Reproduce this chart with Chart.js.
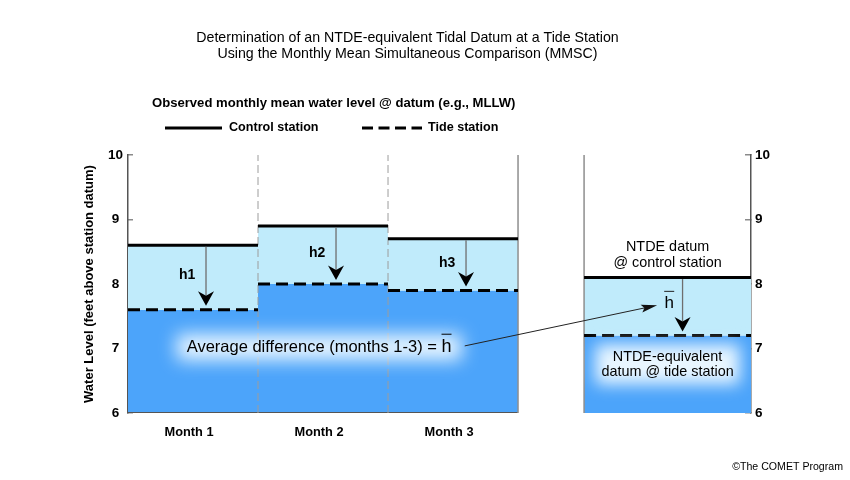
<!DOCTYPE html>
<html><head><meta charset="utf-8">
<script src="https://cdn.jsdelivr.net/npm/chart.js@4.4.1/dist/chart.umd.min.js"></script>
<style>html,body{margin:0;padding:0;background:#fff;} #wrap{width:850px;height:480px;}</style>
</head><body><div id="wrap"><canvas id="c" width="850" height="480" style="width:850px;height:480px"></canvas></div>
<script>
const months = ['Month 1', 'Month 2', 'Month 3'];
const controlStation = [8.6, 8.9, 8.7];
const tideStation = [7.6, 8.0, 7.9];
const ntdeControl = [8.1];
const ntdeTide = [7.2];
const yTicks = [6, 7, 8, 9, 10];
const titleLines = ['Determination of an NTDE-equivalent Tidal Datum at a Tide Station', 'Using the Monthly Mean Simultaneous Comparison (MMSC)'];
const legendHeading = 'Observed monthly mean water level @ datum (e.g., MLLW)';
const seriesNames = ['Control station', 'Tide station'];
const diffLabels = ['h1', 'h2', 'h3'];
const avgLabel = 'Average difference (months 1-3) = ';
const ntdeControlLabel = ['NTDE datum', '@ control station'];
const ntdeTideLabel = ['NTDE-equivalent', 'datum @ tide station'];
const yTitle = 'Water Level (feet above station datum)';
const credit = '\u00A9The COMET Program';

// layout, in x-axis units (one month = 1)
const GAP = 0.508, PANEL = 1.284;
const ntdeStart = months.length + GAP, ntdeEnd = ntdeStart + PANEL;
const DARK = '#4ca4fa', LIGHT = '#c0ebfb';
const FONT = "'Liberation Sans', Arial, sans-serif";
const yMin = yTicks[0], yMax = yTicks[yTicks.length - 1];

const datasets = [];
function segment(x0, x1, c, t) {
  const ti = datasets.length;
  datasets.push({label: seriesNames[1], data: [{x: x0, y: t}, {x: x1, y: t}], borderColor: '#000', borderWidth: 3,
    borderDash: [12, 6], fill: 'start', backgroundColor: DARK, pointRadius: 0, order: 1});
  datasets.push({label: seriesNames[0], data: [{x: x0, y: c}, {x: x1, y: c}], borderColor: '#000', borderWidth: 3,
    fill: ti, backgroundColor: LIGHT, pointRadius: 0, order: 0});
}
months.forEach((m, i) => segment(i, i + 1, controlStation[i], tideStation[i]));
segment(ntdeStart, ntdeEnd, ntdeControl[0], ntdeTide[0]);
for (let i = 1; i < months.length; i++) {
  datasets.push({label: 'sep', data: [{x: i, y: yMin}, {x: i, y: yMax}], borderColor: '#9c9c9c', borderWidth: 1,
    borderDash: [8, 4], pointRadius: 0, fill: false, order: 2});
}
[months.length, ntdeStart].forEach(xv => datasets.push({label: 'edge', data: [{x: xv, y: yMin}, {x: xv, y: yMax}],
  borderColor: '#8e8e8e', borderWidth: 1.5, pointRadius: 0, fill: false, order: 2}));
datasets.push({label: 'base', data: [{x: 0, y: yMin}, {x: months.length, y: yMin}], borderColor: '#555', borderWidth: 2,
  pointRadius: 0, fill: false, order: 2});

const annotations = {
  id: 'annotations',
  afterDatasetsDraw(chart) {
    const {ctx, scales: {x, y}} = chart;
    ctx.save();
    ctx.setLineDash([]);
    const arrow = (xv, c, t) => {
      const px = x.getPixelForValue(xv);
      const y0 = y.getPixelForValue(c) + 1.5;
      const tip = y.getPixelForValue(t) - 4;
      ctx.strokeStyle = '#6e6e6e'; ctx.lineWidth = 1.3;
      ctx.beginPath(); ctx.moveTo(px, y0); ctx.lineTo(px, tip - 10); ctx.stroke();
      ctx.fillStyle = '#000';
      ctx.beginPath(); ctx.moveTo(px, tip); ctx.lineTo(px - 8, tip - 14.5); ctx.lineTo(px, tip - 10);
      ctx.lineTo(px + 8, tip - 14.5); ctx.closePath(); ctx.fill();
    };
    const glow = (cx, cy, w, h, blur) => {
      ctx.save(); ctx.filter = 'blur(' + blur + 'px)'; ctx.fillStyle = 'rgba(238,249,255,0.97)';
      ctx.fillRect(cx - w / 2, cy - h / 2, w, h); ctx.restore();
    };
    months.forEach((m, i) => {
      arrow(i + 0.6, controlStation[i], tideStation[i]);
      ctx.fillStyle = '#000'; ctx.font = 'bold 14px ' + FONT; ctx.textAlign = 'center'; ctx.textBaseline = 'middle';
      ctx.fillText(diffLabels[i], x.getPixelForValue(i + 0.455), y.getPixelForValue((controlStation[i] + tideStation[i]) / 2 + 0.03));
    });
    arrow(ntdeStart + 0.59 * PANEL, ntdeControl[0], ntdeTide[0]);

    // average difference label
    ctx.font = '16.5px ' + FONT;
    const tw = ctx.measureText(avgLabel).width;
    ctx.font = '18px ' + FONT;
    const hw = ctx.measureText('h').width;
    const cx = x.getPixelForValue(1.47), cy = y.getPixelForValue(7.02);
    const total = tw + hw;
    glow(cx, cy, total + 20, 26, 9);
    ctx.fillStyle = '#000'; ctx.textAlign = 'left'; ctx.textBaseline = 'middle';
    const sx = cx - total / 2;
    ctx.font = '16.5px ' + FONT;
    ctx.fillText(avgLabel, sx, cy);
    ctx.font = '18px ' + FONT;
    ctx.fillText('h', sx + tw, cy);
    ctx.strokeStyle = '#000'; ctx.lineWidth = 1;
    ctx.beginPath(); ctx.moveTo(sx + tw, cy - 13); ctx.lineTo(sx + tw + 10, cy - 13); ctx.stroke();

    // pointer from label to h-bar
    const ax0 = x.getPixelForValue(2.59), ay0 = y.getPixelForValue(7.04);
    const ax1 = x.getPixelForValue(4.07), ay1 = y.getPixelForValue(7.67);
    const ang = Math.atan2(ay1 - ay0, ax1 - ax0);
    ctx.strokeStyle = '#222'; ctx.lineWidth = 1;
    ctx.beginPath(); ctx.moveTo(ax0, ay0); ctx.lineTo(ax1 - 12 * Math.cos(ang), ay1 - 12 * Math.sin(ang)); ctx.stroke();
    ctx.save(); ctx.translate(ax1, ay1); ctx.rotate(ang);
    ctx.fillStyle = '#111';
    ctx.beginPath(); ctx.moveTo(0, 0); ctx.lineTo(-16, -4); ctx.lineTo(-13, 0); ctx.lineTo(-16, 4); ctx.closePath(); ctx.fill();
    ctx.restore();

    // NTDE panel labels
    const pcx = x.getPixelForValue(ntdeStart + PANEL / 2);
    ctx.fillStyle = '#000'; ctx.textAlign = 'center'; ctx.textBaseline = 'middle';
    ctx.font = '14.4px ' + FONT;
    ctx.fillText(ntdeControlLabel[0], pcx, y.getPixelForValue(8.58));
    ctx.fillText(ntdeControlLabel[1], pcx, y.getPixelForValue(8.32));
    // h bar in panel
    const hx = x.getPixelForValue(ntdeStart + 0.51 * PANEL), hy = y.getPixelForValue(7.70);
    ctx.font = '17px ' + FONT;
    ctx.fillText('h', hx, hy);
    ctx.beginPath(); ctx.moveTo(hx - 5, hy - 12); ctx.lineTo(hx + 5, hy - 12); ctx.stroke();
    // NTDE tide label with glow
    const g1 = y.getPixelForValue(6.87), g2 = y.getPixelForValue(6.64);
    ctx.font = '14.4px ' + FONT;
    const w2 = Math.max(ctx.measureText(ntdeTideLabel[0]).width, ctx.measureText(ntdeTideLabel[1]).width);
    glow(pcx, (g1 + g2) / 2, w2 + 12, 40, 8);
    ctx.fillStyle = '#000';
    ctx.fillText(ntdeTideLabel[0], pcx, g1);
    ctx.fillText(ntdeTideLabel[1], pcx, g2);
    ctx.restore();
  },
  afterDraw(chart) {
    const ctx = chart.ctx;
    ctx.save();
    ctx.fillStyle = '#000'; ctx.textBaseline = 'middle'; ctx.textAlign = 'left';
    ctx.font = 'bold 13.1px ' + FONT;
    ctx.fillText(legendHeading, 152, 103);
    ctx.strokeStyle = '#000'; ctx.lineWidth = 3;
    ctx.beginPath(); ctx.moveTo(165, 128); ctx.lineTo(222, 128); ctx.stroke();
    ctx.font = 'bold 12.6px ' + FONT;
    ctx.fillText(seriesNames[0], 229, 128);
    ctx.setLineDash([11, 5.5]);
    ctx.beginPath(); ctx.moveTo(362, 128); ctx.lineTo(422, 128); ctx.stroke();
    ctx.setLineDash([]);
    ctx.fillText(seriesNames[1], 428, 128);
    ctx.font = '10.6px ' + FONT; ctx.textAlign = 'right';
    ctx.fillText(credit, 843, 467);
    ctx.restore();
  }
};

const axisY = (pos) => ({
  type: 'linear', position: pos, min: yMin, max: yMax,
  afterBuildTicks: s => { s.ticks = yTicks.map(v => ({value: v})); },
  grid: {drawOnChartArea: false, color: '#8a8a8a', lineWidth: 1.5, tickLength: pos === 'left' ? -5 : -6},
  border: {color: '#555', width: 1.5},
  ticks: {padding: 10, crossAlign: pos === 'left' ? 'center' : 'near', font: {family: FONT, size: 13.5, weight: 'bold'}, color: '#000'},
});

new Chart(document.getElementById('c'), {
  type: 'line',
  data: {datasets},
  options: {
    responsive: false, animation: false, devicePixelRatio: 1,
    layout: {padding: {left: 0, right: 35, top: 0, bottom: 0}},
    plugins: {
      legend: {display: false}, tooltip: {enabled: false},
      filler: {drawTime: 'beforeDatasetsDraw'},
      title: {display: true, text: titleLines, color: '#000',
        font: {family: FONT, size: 14.2, weight: 'normal', lineHeight: '16px'}, padding: {top: 30, bottom: 93}}
    },
    scales: {
      x: {type: 'linear', min: 0, max: ntdeEnd,
        afterBuildTicks: s => { s.ticks = months.map((m, i) => ({value: i + 0.5})); },
        grid: {display: false, drawTicks: false}, border: {display: false},
        ticks: {autoSkip: false, maxRotation: 0, padding: 12, labelOffset: -4, color: '#000', font: {family: FONT, size: 12.8, weight: 'bold'},
          callback: (v, i) => months[i]},
        afterFit: s => { s.height = 67; }},
      y: Object.assign(axisY('left'), {
        title: {display: true, text: yTitle, color: '#000', font: {family: FONT, size: 13, weight: 'bold'}, padding: {top: 82, bottom: 0}},
        afterFit: s => { s.width = 128; }}),
      y2: Object.assign(axisY('right'), {afterFit: s => { s.width = 64; }})
    }
  },
  plugins: [annotations]
});
</script></body></html>
